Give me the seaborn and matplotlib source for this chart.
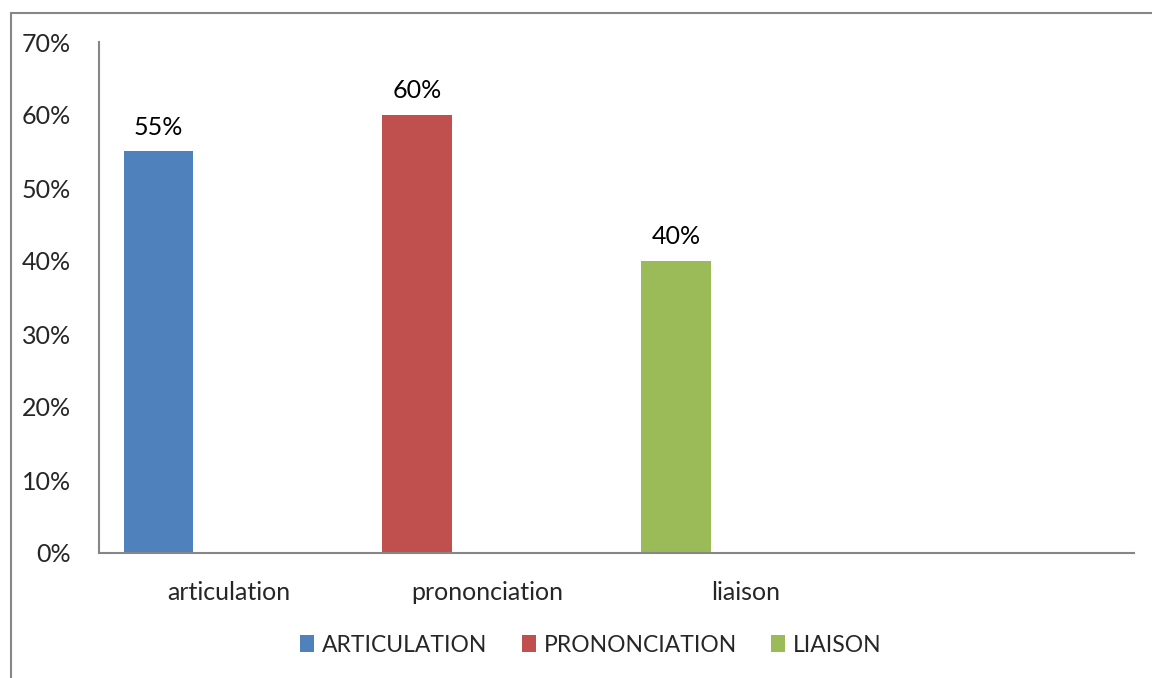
import matplotlib
matplotlib.use("Agg")
import matplotlib.pyplot as plt
from matplotlib.patches import Patch, Rectangle
from matplotlib.ticker import PercentFormatter
import pandas as pd
import seaborn as sns

# data
categories = ["articulation", "prononciation", "liaison"]
series = ["ARTICULATION", "PRONONCIATION", "LIAISON"]
values = [0.55, 0.60, 0.40]
colors = ["#4F81BD", "#C0504D", "#9BBB59"]

df = pd.DataFrame({"categorie": categories, "valeur": values, "slot": "s0"})

sns.set_style("white")
plt.rcParams["font.family"] = ["Lato", "DejaVu Sans"]
plt.rcParams["font.size"] = 18

fig = plt.figure(figsize=(11.52, 6.78), dpi=100)
ax = fig.add_axes([99 / 1152, 1 - 553 / 678, (1134 - 99) / 1152, (553 - 42) / 678])

# every bar sits in the first of three slots of its category (Excel layout)
sns.barplot(data=df, x="categorie", y="valeur", hue="slot",
            hue_order=["s0", "s1", "s2"], order=categories + [""],
            dodge=True, width=0.81, legend=False, ax=ax)
for bar, c in zip(ax.patches, colors):
    bar.set_facecolor(c)
    bar.set_edgecolor("none")

ax.bar_label(ax.containers[0], labels=[f"{v:.0%}" for v in values],
             padding=9, fontsize=18, color="#000000")

ax.set_ylim(0, 0.70)
ax.set_xlim(-0.5, 3.5)
ax.yaxis.set_major_formatter(PercentFormatter(1.0, decimals=0))
ax.set_yticks([i / 10 for i in range(8)])
ax.set_xlabel("")
ax.set_ylabel("")
ax.tick_params(axis="x", length=0, pad=20, labelsize=18)
ax.tick_params(axis="y", length=0, pad=20, labelsize=18)
sns.despine(ax=ax, top=True, right=True)
for side in ["left", "bottom"]:
    ax.spines[side].set_color("#868686")
    ax.spines[side].set_linewidth(1.5)

handles = [Patch(facecolor=c, edgecolor="none", label=s) for c, s in zip(colors, series)]
fig.legend(handles=handles, loc="center", bbox_to_anchor=(0.513, 1 - 645 / 678),
           ncol=3, frameon=False, fontsize=16.5, handlelength=0.6, handleheight=0.8,
           handletextpad=0.35, columnspacing=1.5)

# chart-area border (right and bottom edges fall outside the picture)
fig.patches.append(Rectangle((11 / 1152, -0.1), 1.2, 1 - 13 / 678 + 0.1,
                             transform=fig.transFigure, fill=False,
                             edgecolor="#868686", linewidth=1.5))

fig.savefig("out.png", dpi=100)
